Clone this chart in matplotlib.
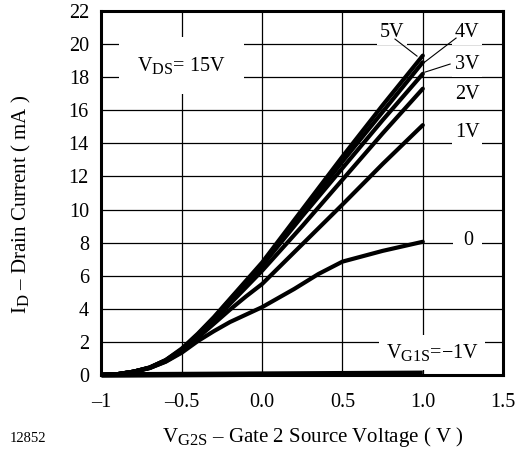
import matplotlib
matplotlib.use("Agg")
import matplotlib.pyplot as plt
try:
    import matplotlib._mathtext as _mt
    _mt.SHRINK_FACTOR = 0.8
except Exception:
    pass

plt.rcParams['font.family'] = ['Liberation Serif', 'DejaVu Serif']
plt.rcParams['mathtext.fontset'] = 'custom'
plt.rcParams['mathtext.rm'] = 'Liberation Serif'
plt.rcParams['mathtext.it'] = 'Liberation Serif:italic'

# Data (V_G2S in V, I_D in mA)
x_pts = [-1.0, -0.9, -0.8, -0.7, -0.6, -0.5, -0.4, -0.3, -0.2, -0.1, 0.0, 0.25, 0.5, 0.75, 1.0]
id_5v = [0.0, 0.05, 0.2, 0.45, 0.9, 1.6, 2.5, 3.5, 4.6, 5.7, 6.8, 10.0, 13.2, 16.3, 19.3]
id_4v = [0.0, 0.05, 0.2, 0.45, 0.9, 1.55, 2.45, 3.45, 4.55, 5.6, 6.7, 9.8, 12.9, 15.9, 18.9]
id_3v = [0.0, 0.05, 0.2, 0.45, 0.88, 1.5, 2.4, 3.4, 4.5, 5.5, 6.6, 9.6, 12.5, 15.4, 18.2]
id_2v = [0.0, 0.05, 0.2, 0.43, 0.85, 1.45, 2.35, 3.3, 4.3, 5.3, 6.3, 9.0, 11.8, 14.6, 17.3]
id_1v = [0.0, 0.05, 0.2, 0.42, 0.82, 1.4, 2.25, 3.1, 3.95, 4.75, 5.5, 7.9, 10.3, 12.75, 15.1]
x_0v = [-1.0, -0.9, -0.8, -0.7, -0.6, -0.5, -0.4, -0.3, -0.2, 0.0, 0.2, 0.35, 0.5, 0.75, 1.0]
id_0v = [0.0, 0.05, 0.2, 0.42, 0.8, 1.35, 2.05, 2.65, 3.2, 4.1, 5.2, 6.1, 6.85, 7.5, 8.05]
x_m1v = [-1.0, 1.0]
id_m1v = [0.0, 0.1]

curves = [(x_pts, id_5v), (x_pts, id_4v), (x_pts, id_3v), (x_pts, id_2v),
          (x_pts, id_1v), (x_0v, id_0v)]

x_ticks = [-1, -0.5, 0.0, 0.5, 1.0, 1.5]
x_tick_labels = ['\u20131', '\u20130.5', '0.0', '0.5', '1.0', '1.5']
y_ticks = list(range(0, 23, 2))

fs = 14.5
fig = plt.figure(figsize=(5.23, 4.5), dpi=100)
ax = fig.add_axes([0.194, 0.1667, 0.768, 0.809])
ax.set_xlim(-1, 1.5)
ax.set_ylim(0, 22)
ax.set_xticks(x_ticks)
ax.set_xticklabels(x_tick_labels)
ax.set_yticks(y_ticks)
ax.tick_params(length=0, labelsize=fs)
ax.tick_params(axis='x', pad=13)
ax.tick_params(axis='y', pad=9)
ax.grid(True, color='black', linewidth=0.9)
ax.set_axisbelow(True)
for s in ax.spines.values():
    s.set_linewidth(2.2)
    s.set_zorder(5)

for xs, ys in curves:
    ax.plot(xs, ys, color='black', linewidth=3.0, solid_capstyle='round', zorder=4)
ax.plot(x_m1v, id_m1v, color='black', linewidth=4.0, solid_capstyle='butt', zorder=4, clip_on=False)

box = dict(facecolor='white', edgecolor='none', pad=2)
ax.text(-0.5, 18.36, 'V$_{\\mathrm{DS}}$= 15V', ha='center', va='baseline', fontsize=fs,
        bbox=dict(facecolor='white', edgecolor='none', pad=13), zorder=3)
ax.text(0.811, 20.4, '5V', ha='center', va='baseline', fontsize=fs, bbox=box, zorder=3)
ax.text(1.276, 20.4, '4V', ha='center', va='baseline', fontsize=fs, bbox=box, zorder=3)
ax.text(1.276, 18.5, '3V', ha='center', va='baseline', fontsize=fs, bbox=box, zorder=3)
ax.text(1.276, 16.67, '2V', ha='center', va='baseline', fontsize=fs, bbox=box, zorder=3)
ax.text(1.276, 14.4, '1V', ha='center', va='baseline', fontsize=fs, bbox=box, zorder=3)
ax.text(1.28, 7.88, '0', ha='center', va='baseline', fontsize=fs,
        bbox=dict(facecolor='white', edgecolor='none', pad=7), zorder=3)
ax.text(1.058, 1.03, 'V$_{\\mathrm{G1S}}$=\u22121V', ha='center', va='baseline',
        fontsize=fs, bbox=dict(facecolor='white', edgecolor='none', pad=5), zorder=3)

# leader lines
ax.plot([0.827, 0.964], [20.3, 19.27], color='black', linewidth=0.8, zorder=4)
ax.plot([1.207, 0.996], [20.36, 18.79], color='black', linewidth=0.8, zorder=4)
ax.plot([1.17, 1.013], [18.79, 18.3], color='black', linewidth=0.8, zorder=4)

ax.set_xlabel('V$_{\\mathrm{G2S}}$ \u2013 Gate 2 Source Voltage ( V )', fontsize=15, va='baseline')
ax.set_ylabel('I$_{\\mathrm{D}}$ \u2013 Drain Current ( mA )', fontsize=15, va='center')
ax.xaxis.set_label_coords(0.527, -0.184)
ax.yaxis.set_label_coords(-0.198, 0.468)
fig.text(0.0535, 0.0178, '12852', ha='center', va='baseline', fontsize=10.5)

fig.savefig('out.png', dpi=100)
